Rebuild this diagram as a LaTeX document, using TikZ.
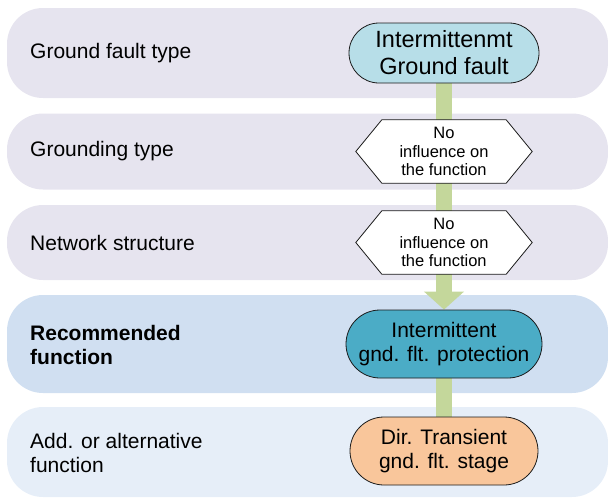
\documentclass[tikz,border=0pt]{standalone}
\usepackage{fontspec}
\setmainfont{Liberation Sans}
\usetikzlibrary{arrows.meta,calc}
\definecolor{bandA}{HTML}{E6E4EF}
\definecolor{bandB}{HTML}{D0DFF1}
\definecolor{bandC}{HTML}{E6EEF8}
\definecolor{nodeA}{HTML}{B7DEE8}
\definecolor{nodeB}{HTML}{4BACC6}
\definecolor{nodeC}{HTML}{F9C69B}
\definecolor{flowgreen}{HTML}{C4D79B}
\definecolor{edgec}{HTML}{1A1A1A}
\pgfdeclarelayer{back}
\pgfdeclarelayer{mid}
\pgfdeclarelayer{hexl}
\pgfsetlayers{back,mid,hexl,main}
\begin{document}
\begin{tikzpicture}[x=1pt,y=-1pt,
  band/.style={rectangle, rounded corners=36pt, inner sep=0pt, draw=none, minimum width=601pt},
  lbl/.style={anchor=west, inner sep=0pt, align=left, font=\fontsize{21}{24}\selectfont},
  term/.style={rectangle, draw=edgec, line width=0.8pt, inner sep=0pt, align=center},
  hexbox/.style={inner sep=0pt, align=center, minimum width=176pt, minimum height=63pt, font=\fontsize{16.5}{18.5}\selectfont},
  hexline/.style={draw=edgec, line width=0.8pt, fill=white},
  flow/.style={draw=flowgreen, line width=16pt},
]
\useasboundingbox (0,0) rectangle (608,501);
\begin{pgfonlayer}{back}
\node[band, fill=bandA, minimum height=90pt] (b1) at (307.5,53) {};
\node[band, fill=bandA, minimum height=76pt] (b2) at (307.5,151.5) {};
\node[band, fill=bandA, minimum height=75pt] (b3) at (307.5,242.5) {};
\node[band, fill=bandB, minimum height=98pt] (b4) at (307.5,344) {};
\node[band, fill=bandC, minimum height=90pt] (b5) at (307.5,452) {};
\end{pgfonlayer}

\node[lbl] (l1) at (30,53) {Ground fault type};
\node[lbl] (l2) at (30,151.5) {Grounding type};
\node[lbl] (l3) at (30,242.5) {Network structure};
\node[lbl, font=\fontsize{21}{24}\selectfont\bfseries] (l4) at (30,345) {Recommended\\function};
\node[lbl] (l5) at (30,453) {Add. or alternative\\function};

\node[term, fill=nodeA, minimum width=190pt, minimum height=60pt, rounded corners=30pt,
      font=\fontsize{23.5}{27}\selectfont] (n1) at (444,53) {Intermittenmt\\Ground fault};
\node[hexbox] (h1) at (444,151.5) {No\\influence on\\the function};
\node[hexbox] (h2) at (444,242.5) {No\\influence on\\the function};
\node[term, fill=nodeB, minimum width=196pt, minimum height=68pt, rounded corners=34pt,
      font=\fontsize{21}{24}\selectfont] (n3) at (444,344) {Intermittent\\gnd. flt. protection};
\node[term, fill=nodeC, minimum width=188pt, minimum height=68pt, rounded corners=34pt,
      font=\fontsize{21}{24}\selectfont] (n4) at (444,451) {Dir. Transient\\gnd. flt. stage};

\begin{pgfonlayer}{hexl}
\foreach \h in {h1,h2}{
  \path[hexline] (\h.west) -- ($(\h.north west)+(26,0)$) -- ($(\h.north east)+(-26,0)$)
    -- (\h.east) -- ($(\h.south east)+(-26,0)$) -- ($(\h.south west)+(26,0)$) -- cycle;
}
\end{pgfonlayer}

\begin{pgfonlayer}{mid}
\draw[flow] (n1.south) -- (h1.north);
\draw[flow] (h1.south) -- (h2.north);
\draw[flow, -{Triangle[width=39pt,length=18pt]}] (h2.south) -- (n3.north);
\draw[flow] (n3.south) -- (n4.north);
\end{pgfonlayer}
\end{tikzpicture}
\end{document}
